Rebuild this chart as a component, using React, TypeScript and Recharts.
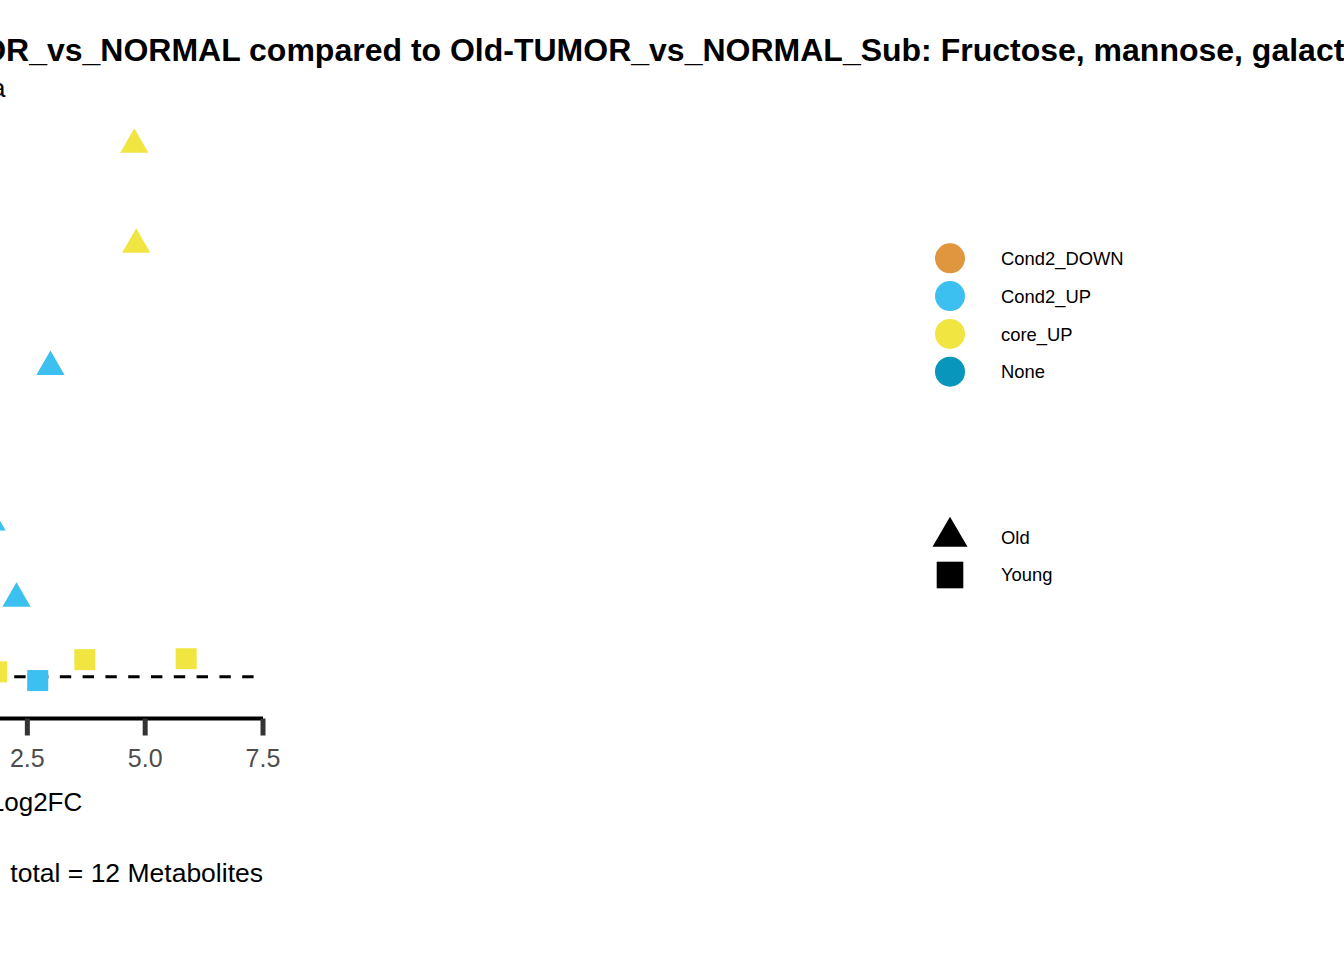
import React from 'react';
import { ScatterChart, Scatter, XAxis, YAxis, ReferenceLine, Cell } from 'recharts';

// Old comparison (triangles)
const oldLog2FC = [4.77, 4.81, 2.99, 1.74, 2.27];
const oldNegLog10P = [17.85, 14.74, 10.94, 6.1, 3.73];
const oldGroup = ['core_UP', 'core_UP', 'Cond2_UP', 'Cond2_UP', 'Cond2_UP'];

// Young comparison (squares)
const youngLog2FC = [1.85, 2.72, 3.72, 5.87];
const youngNegLog10P = [1.45, 1.18, 1.83, 1.86];
const youngGroup = ['core_UP', 'Cond2_UP', 'core_UP', 'core_UP'];

const xTicks = [0, 2.5, 5, 7.5];
const pThreshold = 1.3;

const colourGroups = ['Cond2_DOWN', 'Cond2_UP', 'core_UP', 'None'];
const colourValues = ['#DF963F', '#3BC0EF', '#F1E541', '#0996BC'];
const shapeGroups = ['Old', 'Young'];

const title = 'Young-TUMOR_vs_NORMAL compared to Old-TUMOR_vs_NORMAL_Sub: Fructose, mannose, galactose metabolism';
const subtitle = 'Tumour data';
const caption = 'total = 12 Metabolites';

const colourOf = (g: string) => colourValues[colourGroups.indexOf(g)];

const oldData = oldLog2FC.map((x, i) => ({ x, y: oldNegLog10P[i], group: oldGroup[i] }));
const youngData = youngLog2FC.map((x, i) => ({ x, y: youngNegLog10P[i], group: youngGroup[i] }));

const SHIFT = 300; // chart is wider than the page, its left part is cut off

const Triangle = (props: any) => {
  const { cx, cy, fill } = props;
  const r = 16.3;
  const h = r * Math.sqrt(3) / 2;
  return <polygon points={`${cx},${cy - r} ${cx + h},${cy + r / 2} ${cx - h},${cy + r / 2}`} fill={fill} />;
};

const Square = (props: any) => {
  const { cx, cy, fill } = props;
  const s = 21;
  return <rect x={cx - s / 2} y={cy - s / 2} width={s} height={s} fill={fill} />;
};

export default function App() {
  return (
    <div style={{ position: 'absolute', left: 0, top: 0, width: 1344, height: 960, overflow: 'hidden', background: '#fff', fontFamily: '"Liberation Sans", Arial, sans-serif' }}>
      <div style={{ position: 'absolute', left: -SHIFT, top: 0 }}>
        <ScatterChart width={1344 + SHIFT} height={960} margin={{ top: 75.5, right: 1081, bottom: 181.5, left: 109 }}>
          <XAxis
            type="number"
            dataKey="x"
            domain={[-2.133, 7.5]}
            ticks={xTicks}
            allowDataOverflow
            height={60}
            tickSize={17}
            tickMargin={13.5}
            axisLine={{ stroke: '#000', strokeWidth: 4 }}
            tickLine={{ stroke: '#333', strokeWidth: 5 }}
            tick={{ fill: '#4D4D4D', fontSize: 25 }}
            tickFormatter={(v: number) => v.toFixed(1)}
            label={{ value: 'Log2FC', position: 'bottom', offset: 14, fill: '#000', fontSize: 26 }}
          />
          <YAxis type="number" dataKey="y" domain={[0, 20]} hide />
          <Scatter data={oldData} shape={Triangle} isAnimationActive={false}>
            {oldData.map((d, i) => <Cell key={i} fill={colourOf(d.group)} />)}
          </Scatter>
          <Scatter data={youngData} shape={Square} isAnimationActive={false}>
            {youngData.map((d, i) => <Cell key={i} fill={colourOf(d.group)} />)}
          </Scatter>
          <ReferenceLine y={pThreshold} stroke="#000" strokeWidth={2.85} strokeDasharray="11.4 11.4" />
        </ScatterChart>
      </div>
      <svg width={1344} height={960} style={{ position: 'absolute', left: 0, top: 0, pointerEvents: 'none' }}>
        <text x={-196} y={61} fontSize={32} fontWeight="bold" fill="#000">{title}</text>
        <text x={5.5} y={97} fontSize={26} fill="#000" textAnchor="end">{subtitle}</text>
        <text x={263} y={882} fontSize={26.5} fill="#000" textAnchor="end">{caption}</text>
        {colourGroups.map((g, i) => (
          <g key={g}>
            <circle cx={950} cy={258.3 + i * 37.8} r={15} fill={colourValues[i]} />
            <text x={1001} y={265 + i * 37.8} fontSize={18.4} fill="#000">{g}</text>
          </g>
        ))}
        <polygon points="950,516.7 967.5,546.7 932.5,546.7" fill="#000" />
        <text x={1001} y={543.5} fontSize={18.4} fill="#000">{shapeGroups[0]}</text>
        <rect x={936.7} y={561.7} width={26.6} height={26.6} fill="#000" />
        <text x={1001} y={580.5} fontSize={18.4} fill="#000">{shapeGroups[1]}</text>
      </svg>
    </div>
  );
}
